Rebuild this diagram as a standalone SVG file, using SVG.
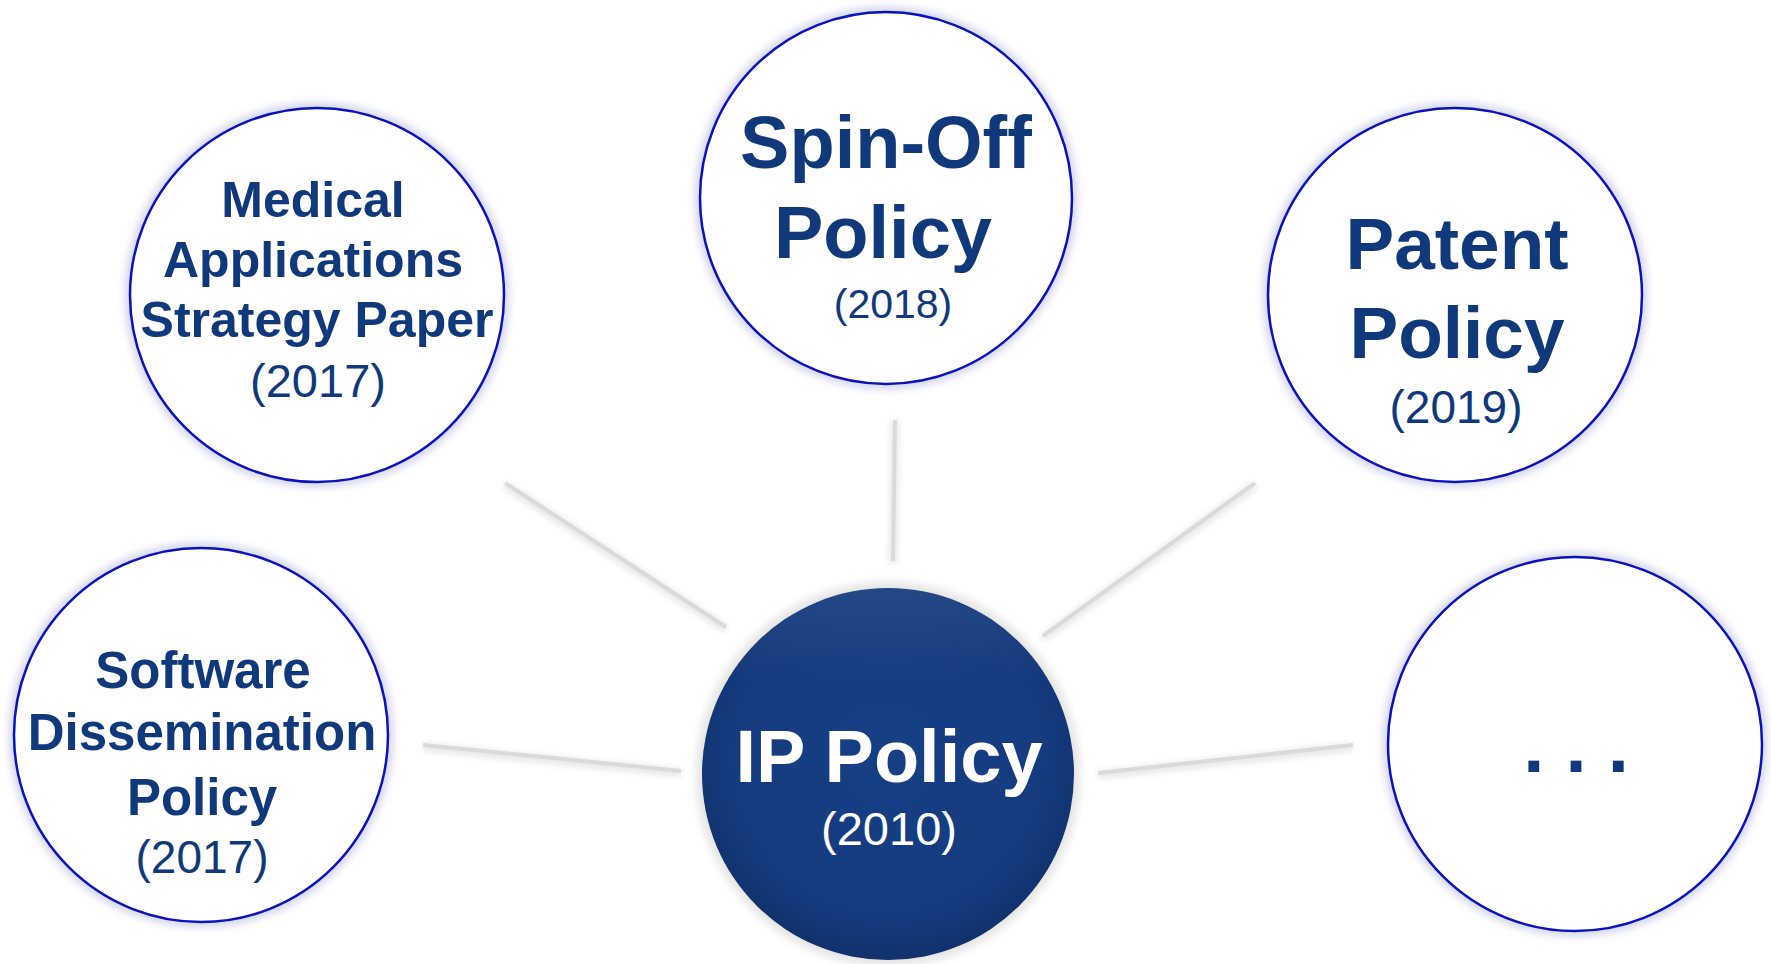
<svg xmlns="http://www.w3.org/2000/svg" width="1771" height="964" viewBox="0 0 1771 964">
<defs>
  <filter id="glow" x="-20%" y="-20%" width="140%" height="140%">
    <feGaussianBlur stdDeviation="4"/>
  </filter>
  <filter id="lshadow" x="-20%" y="-50%" width="140%" height="200%">
    <feGaussianBlur stdDeviation="3"/>
  </filter>
  <radialGradient id="core" cx="50%" cy="45%" r="55%">
    <stop offset="0%" stop-color="#173f84"/>
    <stop offset="80%" stop-color="#143b7e"/>
    <stop offset="100%" stop-color="#10316c"/>
  </radialGradient>
  <linearGradient id="sheen" x1="0" y1="0" x2="0" y2="1">
    <stop offset="0%" stop-color="#ffffff" stop-opacity="0.07"/>
    <stop offset="25%" stop-color="#ffffff" stop-opacity="0"/>
  </linearGradient>
</defs>
<style>
  .ring { fill: #ffffff; stroke: #0a12bf; stroke-width: 2.5; }
  .halo { fill: none; stroke: #c9cde8; stroke-width: 9; }
  .b { font-family: "Liberation Sans", Arial, sans-serif; font-weight: bold; fill: #0f397b; text-anchor: middle; }
  .r { font-family: "Liberation Sans", Arial, sans-serif; font-weight: normal; fill: #0f397b; text-anchor: middle; }
  .conn { stroke: #dadada; stroke-width: 4; stroke-linecap: butt; fill: none; }
  .connsh { stroke: #e6e6e6; stroke-width: 8; fill: none; }
</style>
<rect width="1771" height="964" fill="#ffffff"/>

<g id="connectors">
  <g filter="url(#lshadow)">
    <line class="connsh" x1="505" y1="485" x2="726" y2="629"/>
    <line class="connsh" x1="423" y1="747" x2="681" y2="773"/>
    <line class="connsh" x1="895" y1="420" x2="893" y2="563"/>
    <line class="connsh" x1="1255" y1="485" x2="1043" y2="638"/>
    <line class="connsh" x1="1353" y1="747" x2="1098" y2="775"/>
  </g>
  <line class="conn" x1="505" y1="483" x2="726" y2="627"/>
  <line class="conn" x1="423" y1="745" x2="681" y2="771"/>
  <line class="conn" x1="895" y1="420" x2="893" y2="561"/>
  <line class="conn" x1="1255" y1="483" x2="1043" y2="636"/>
  <line class="conn" x1="1353" y1="745" x2="1098" y2="773"/>
</g>

<g id="node-medical">
  <circle class="halo" cx="317" cy="295" r="187" filter="url(#glow)"/>
  <circle class="ring" cx="317" cy="295" r="187"/>
  <text class="b" x="313" y="217" font-size="50">Medical</text>
  <text class="b" x="313" y="277" font-size="50">Applications</text>
  <text class="b" x="317" y="337" font-size="50">Strategy Paper</text>
  <text class="r" x="318" y="397" font-size="47">(2017)</text>
</g>

<g id="node-spinoff">
  <circle class="halo" cx="886" cy="198" r="186" filter="url(#glow)"/>
  <circle class="ring" cx="886" cy="198" r="186"/>
  <text class="b" x="886" y="168" font-size="74">Spin-Off</text>
  <text class="b" x="883" y="258" font-size="74">Policy</text>
  <text class="r" x="893" y="318" font-size="41">(2018)</text>
</g>

<g id="node-patent">
  <circle class="halo" cx="1455" cy="295" r="187" filter="url(#glow)"/>
  <circle class="ring" cx="1455" cy="295" r="187"/>
  <text class="b" x="1457" y="269" font-size="73">Patent</text>
  <text class="b" x="1457" y="358" font-size="73">Policy</text>
  <text class="r" x="1456" y="423" font-size="46">(2019)</text>
</g>

<g id="node-software">
  <circle class="halo" cx="201" cy="735" r="187" filter="url(#glow)"/>
  <circle class="ring" cx="201" cy="735" r="187"/>
  <text class="b" x="203" y="688" font-size="51">Software</text>
  <text class="b" x="202" y="750" font-size="51">Dissemination</text>
  <text class="b" x="202" y="815" font-size="51">Policy</text>
  <text class="r" x="202" y="873" font-size="46">(2017)</text>
</g>

<g id="node-more">
  <circle class="halo" cx="1575" cy="744" r="187" filter="url(#glow)"/>
  <circle class="ring" cx="1575" cy="744" r="187"/>
  <text class="b" x="1576" y="772" font-size="76">. . .</text>
</g>

<g id="node-ip">
  <circle cx="888" cy="774" r="192" fill="#e4e4e4" filter="url(#glow)"/>
  <circle cx="888" cy="774" r="186" fill="url(#core)"/>
  <circle cx="888" cy="774" r="186" fill="url(#sheen)"/>
  <text x="889" y="782" font-size="74" font-family="Liberation Sans, Arial, sans-serif" font-weight="bold" fill="#ffffff" text-anchor="middle">IP Policy</text>
  <text x="889" y="845" font-size="47" font-family="Liberation Sans, Arial, sans-serif" fill="#ffffff" text-anchor="middle">(2010)</text>
</g>
</svg>
